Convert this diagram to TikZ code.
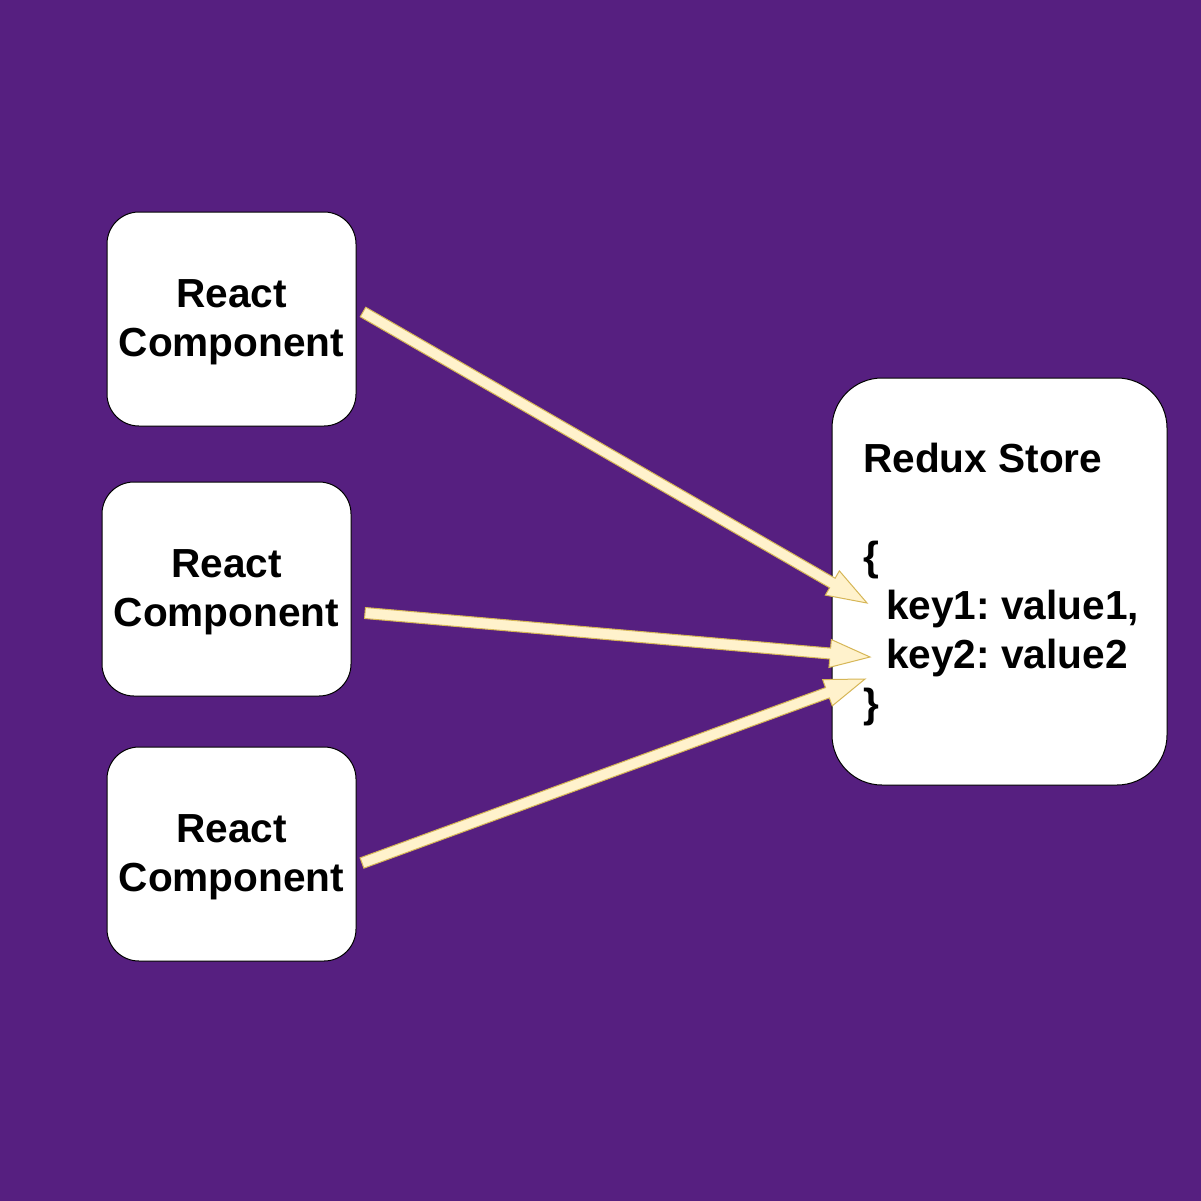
\documentclass[tikz,border=0pt]{standalone}
\usepackage{fontspec}
\setmainfont{Liberation Sans}
\usetikzlibrary{calc}
\frenchspacing
\definecolor{bgpurple}{HTML}{561F80}
\definecolor{arrfill}{HTML}{FFF2CC}
\definecolor{arrline}{HTML}{D6B656}
\newcommand\myflexarrow[2]{%
  \path ($(#2)!40pt!(#1)$) coordinate (fb);
  \draw[flexarrowstyle] ($(#1)!5.5pt!90:(#2)$) -- ($(fb)!5.5pt!90:(#2)$) -- ($(fb)!14pt!90:(#2)$) -- (#2)
    -- ($(fb)!14pt!-90:(#2)$) -- ($(fb)!5.5pt!-90:(#2)$) -- ($(#1)!5.5pt!-90:(#2)$) -- cycle;
}
\tikzset{
  compbox/.style={draw=black, line width=1pt, fill=white, rounded corners=32pt,
    minimum width=249pt, minimum height=214pt, inner sep=0pt},
  storebox/.style={draw=black, line width=1pt, fill=white, rounded corners=50pt,
    minimum width=335pt, minimum height=407pt, inner sep=0pt},
  lbl/.style={font=\fontsize{40.6}{49}\selectfont\bfseries\frenchspacing, inner sep=0pt},
  flexarrowstyle/.style={draw=arrline, fill=arrfill, line width=1pt, line join=miter}
}
\begin{document}
\begin{tikzpicture}[x=1pt, y=-1pt]
  \fill[bgpurple] (0,0) rectangle (1201,1201);
  \useasboundingbox (0,0) rectangle (1201,1201);

  \node[compbox] (c1) at (231.5,319) {};
  \node[compbox] (c2) at (226.5,589) {};
  \node[compbox] (c3) at (231.5,854) {};
  \node[storebox] (store) at (999.5,581.5) {};

  \node[lbl, align=center] (t1) at (c1.center) {\rule{0pt}{35pt}React\\Component};
  \node[lbl, align=center] (t2) at (c2.center) {\rule{0pt}{35pt}React\\Component};
  \node[lbl, align=center] (t3) at (c3.center) {\rule{0pt}{35pt}React\\Component};
  \node[lbl, align=left, anchor=north west] (st) at (863,443)
    {Redux Store\\[49pt]\{\\\hspace*{23pt}key1: value1,\\\hspace*{23pt}key2: value2\\\}};

  \coordinate (a1s) at (363,312);
  \coordinate (a1t) at (867,603);
  \coordinate (a2s) at (365,613);
  \coordinate (a2t) at (870,657);
  \coordinate (a3s) at (362,863);
  \coordinate (a3t) at (865,679);
  \myflexarrow{a1s}{a1t}
  \myflexarrow{a2s}{a2t}
  \myflexarrow{a3s}{a3t}
\end{tikzpicture}
\end{document}
